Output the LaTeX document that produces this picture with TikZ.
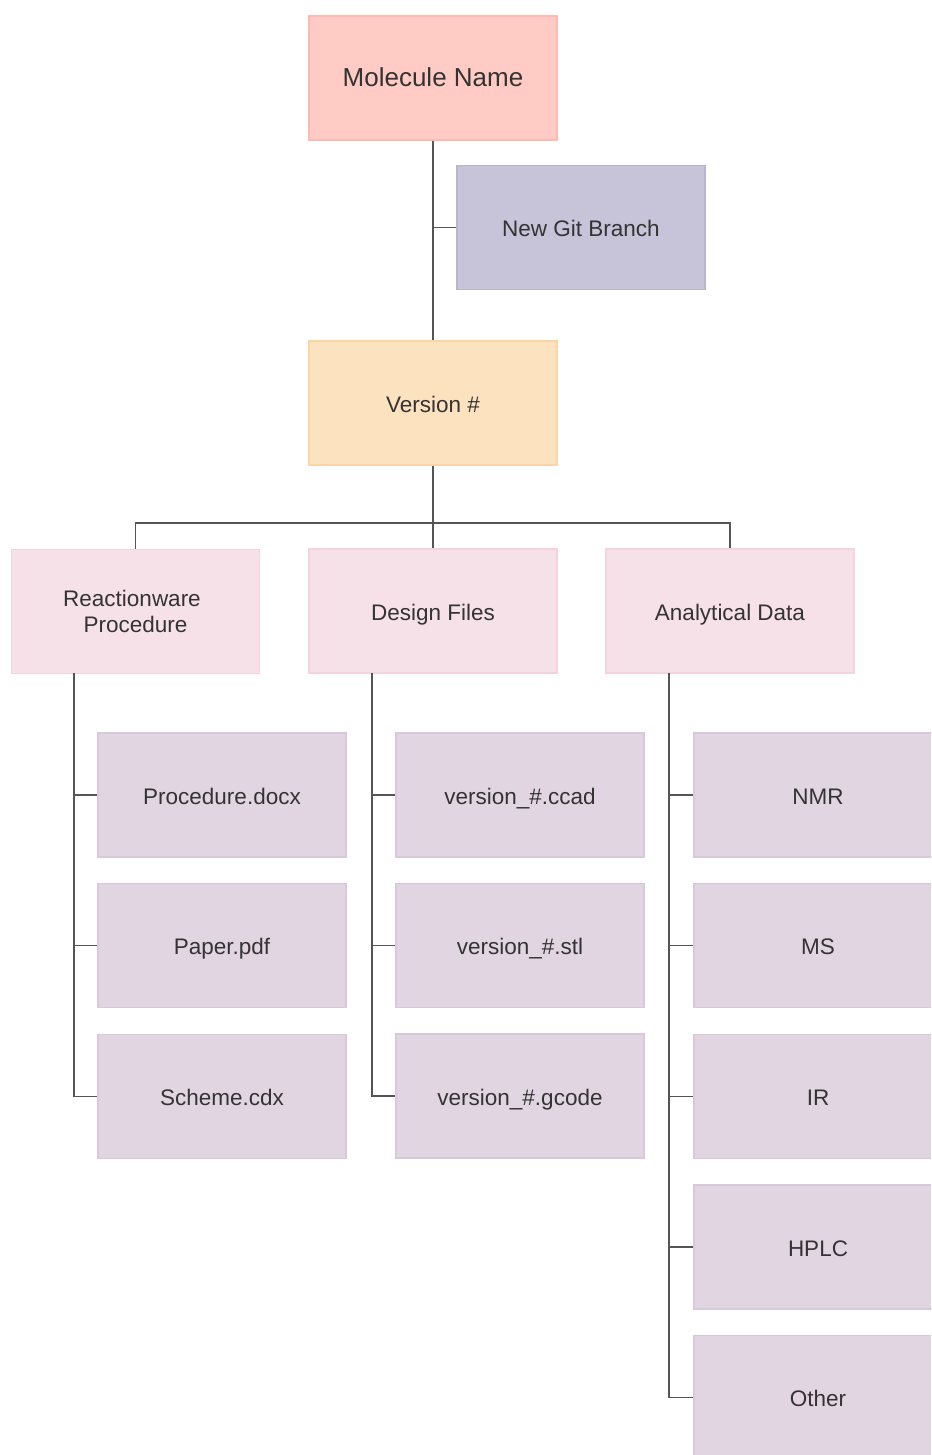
\documentclass[tikz,border=0pt]{standalone}
\usepackage{fontspec}
\setmainfont{Liberation Sans}
\usetikzlibrary{positioning}
\definecolor{molfill}{HTML}{FFCBC4}\definecolor{moldraw}{HTML}{FFB9B1}
\definecolor{gitfill}{HTML}{C7C3D8}\definecolor{gitdraw}{HTML}{B9B4D1}
\definecolor{verfill}{HTML}{FDE2C0}\definecolor{verdraw}{HTML}{FBD6A5}
\definecolor{catfill}{HTML}{F7E1E9}\definecolor{catdraw}{HTML}{F4D3DF}
\definecolor{leaffill}{HTML}{E2D5E2}\definecolor{leafdraw}{HTML}{D9C7DB}
\definecolor{wire}{HTML}{555555}
\definecolor{ink}{HTML}{333333}
\tikzset{
  box/.style={rectangle, minimum width=248pt, minimum height=124pt, inner sep=0pt,
    line width=1.5pt, text=ink, align=center, text height=20pt, text depth=2pt,
    font=\fontsize{22.5}{26}\selectfont},
  molbox/.style={box, fill=molfill, draw=moldraw, text depth=3.5pt,
    font=\fontsize{26}{30}\selectfont},
  gitbox/.style={box, fill=gitfill, draw=gitdraw},
  verbox/.style={box, fill=verfill, draw=verdraw},
  catbox/.style={box, fill=catfill, draw=catdraw},
  leafbox/.style={box, fill=leaffill, draw=leafdraw},
  link/.style={draw=wire, line width=1.6pt}
}
\begin{document}
\begin{tikzpicture}[x=1pt, y=-1pt]
\clip (0,0) rectangle (931,1455);
\fill[white] (0,0) rectangle (931,1455);

% top of the tree
\node[molbox] (mol) at (433,78) {Molecule Name};
\node[gitbox] (git) at (581,227.5) {New Git Branch};
\node[verbox] (ver) at (433,403) {Version \#};

% second level
\node[catbox, text height=, text depth=] (rp) at (135.5,611.5)
  {Reactionware\hspace*{7pt}\\Procedure};
\node[catbox] (df) at (433,611) {Design Files};
\node[catbox] (ad) at (730,611) {Analytical Data};

% files under the procedure
\node[leafbox] (p1) at (222,795) {Procedure.docx};
\node[leafbox] (p2) at (222,945.5) {Paper.pdf};
\node[leafbox] (p3) at (222,1096.5) {Scheme.cdx};

% design files
\node[leafbox] (d1) at (520,795) {version\_\#.ccad};
\node[leafbox] (d2) at (520,945.5) {version\_\#.stl};
\node[leafbox] (d3) at (520,1096) {version\_\#.gcode};

% analytical data
\node[leafbox] (a1) at (818,795) {NMR};
\node[leafbox] (a2) at (818,945.5) {MS};
\node[leafbox] (a3) at (818,1096.5) {IR};
\node[leafbox] (a4) at (818,1247) {HPLC};
\node[leafbox] (a5) at (818,1397.5) {Other};

% connectors
\draw[link] (mol.south) -- (ver.north);
\draw[link] (mol.south |- git.west) -- (git.west);

\coordinate (bus) at (433,523);
\draw[link] (ver.south) -- (bus);
\draw[link] (rp.north) |- (bus) -| (ad.north);
\draw[link] (bus) -- (df.north);

\coordinate (rpx) at (74,673);
\coordinate (dfx) at (372,673);
\coordinate (adx) at (669,673);

\draw[link] (rpx) |- (p3.west);
\draw[link] (rpx |- p1.west) -- (p1.west);
\draw[link] (rpx |- p2.west) -- (p2.west);

\draw[link] (dfx) |- (d3.west);
\draw[link] (dfx |- d1.west) -- (d1.west);
\draw[link] (dfx |- d2.west) -- (d2.west);

\draw[link] (adx) |- (a5.west);
\draw[link] (adx |- a1.west) -- (a1.west);
\draw[link] (adx |- a2.west) -- (a2.west);
\draw[link] (adx |- a3.west) -- (a3.west);
\draw[link] (adx |- a4.west) -- (a4.west);
\end{tikzpicture}
\end{document}
